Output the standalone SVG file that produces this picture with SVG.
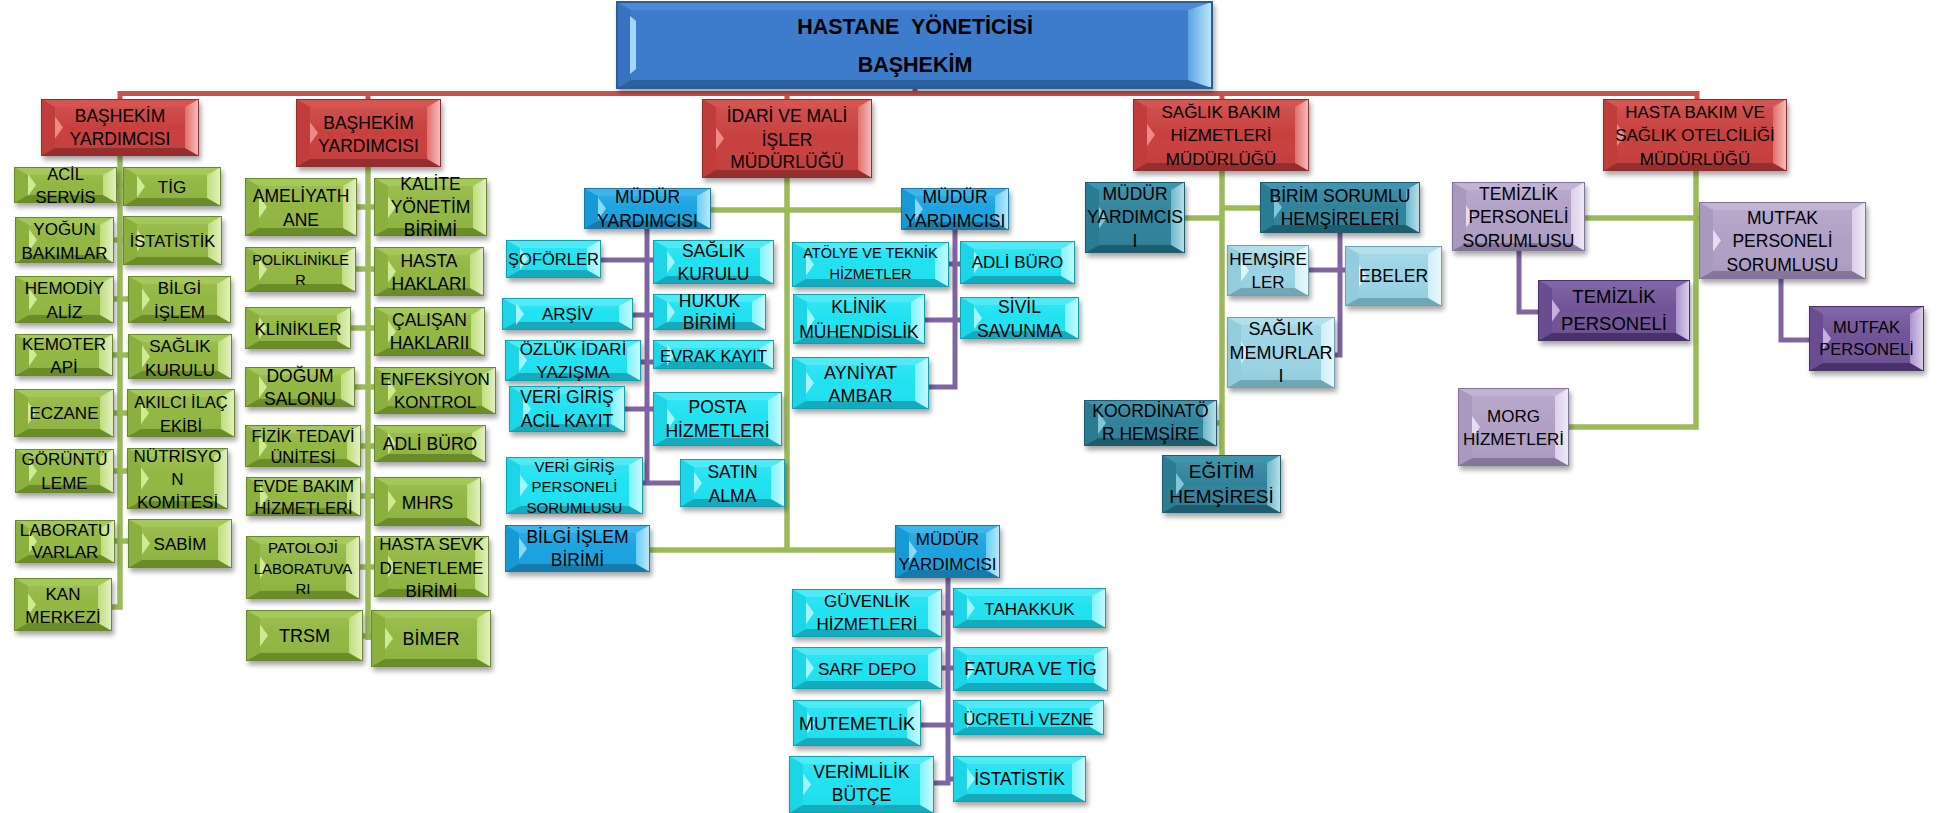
<svg xmlns="http://www.w3.org/2000/svg" width="1940" height="813" viewBox="0 0 1940 813">
<style>
.t{font-family:"Liberation Sans",Arial,"DejaVu Sans",sans-serif;font-size:17.5px;text-anchor:middle;fill:#000}
.ttl{font-weight:bold;font-size:21.5px}
.f145{font-size:14.5px}.f15{font-size:15px}.f165{font-size:16.5px}.f17{font-size:17px}.f18{font-size:18px}.f185{font-size:18.5px}.f19{font-size:19px}
.box{filter:url(#sh)}
.red{--c:#c8403e;--t:#d65451;--b:#962f2d;--l:#c03d3b;--r:#e36663;--h:#ec8a87;--s:#8c2d2b}
.grn{--c:#92b742;--t:#a5c958;--b:#6b8d2b;--l:#8cb03e;--r:#bcdc74;--h:#cfea92;--s:#67872f}
.cyn{--c:#20e2f2;--t:#50eaf6;--b:#14abbc;--l:#1cd6e8;--r:#7af2fb;--h:#a0f6fc;--s:#11a2b2}
.blu{--c:#1ba3e0;--t:#3eb5ea;--b:#137aad;--l:#199ad6;--r:#62cbf4;--h:#8ad8f8;--s:#1278ab}
.tea{--c:#2f839b;--t:#3e96ae;--b:#1e5d6f;--l:#2c7c93;--r:#62b4ca;--h:#80c6d8;--s:#1d5b6c}
.lbl{--c:#9ad4e4;--t:#b1dfec;--b:#6fa7b7;--l:#93ccdc;--r:#cbeef7;--h:#dcf5fb;--s:#6ca2b2}
.lav{--c:#b1a0c6;--t:#c2b4d4;--b:#85759b;--l:#aa99bf;--r:#dacdea;--h:#e6dcf1;--s:#83739a}
.pur{--c:#705397;--t:#8065a8;--b:#49336a;--l:#6a4e90;--r:#a88dcd;--h:#c5b0e2;--s:#47326a}
.cr{fill:none;stroke:#c9504e;stroke-width:5}
.cg{fill:none;stroke:#9bbb59;stroke-width:5.5}
.cp{fill:none;stroke:#8064a2;stroke-width:5}
</style>
<defs>
<filter id="sh" x="-10%" y="-15%" width="125%" height="145%">
<feDropShadow dx="2" dy="4" stdDeviation="2.5" flood-color="#000" flood-opacity="0.35"/>
</filter>
<linearGradient id="gl" x1="0" y1="0" x2="1" y2="0">
<stop offset="0" stop-color="#fff" stop-opacity="0.05"/>
<stop offset="1" stop-color="#fff" stop-opacity="0.6"/>
</linearGradient>
<linearGradient id="sv" x1="0" y1="0" x2="0" y2="1">
<stop offset="0" stop-color="#fff" stop-opacity="0.12"/>
<stop offset="0.5" stop-color="#fff" stop-opacity="0"/>
<stop offset="1" stop-color="#000" stop-opacity="0.06"/>
</linearGradient>
<linearGradient id="gtop" x1="0" y1="0" x2="1" y2="0">
<stop offset="0" stop-color="#5aa4e2"/>
<stop offset="1" stop-color="#bde8fc"/>
</linearGradient>
<symbol id="bx">
<rect width="100%" height="100%" style="fill:var(--c)"/>
<rect width="100%" height="100%" fill="url(#sv)"/>
<rect width="100%" height="8" style="fill:var(--t)"/>
<rect y="100%" width="100%" height="8" transform="translate(0,-8)" style="fill:var(--b)"/>
<rect width="14" height="100%" style="fill:var(--l)"/>
<rect x="100%" width="14" height="100%" transform="translate(-14,0)" style="fill:var(--r)"/>
<rect x="100%" width="14" height="100%" transform="translate(-14,0)" fill="url(#gl)"/>
<polygon points="0,0 14,0 14,8" style="fill:var(--t)"/>
<svg x="100%" width="1" height="1" overflow="visible"><polygon points="0,0 -14,0 -14,8" style="fill:var(--t)"/></svg>
<svg y="100%" width="1" height="1" overflow="visible"><polygon points="0,0 14,0 14,-8" style="fill:var(--b)"/></svg>
<svg x="100%" y="100%" width="1" height="1" overflow="visible"><polygon points="0,0 -14,0 -14,-8" style="fill:var(--b)"/></svg>
<svg y="50%" width="1" height="1" overflow="visible"><polygon points="14,-11 22,0 14,11" style="fill:var(--h)"/></svg>
<rect width="100%" height="100%" fill="none" stroke-width="2" style="stroke:var(--s)"/>
</symbol>
</defs>

<g id="connectors">
<path class="cr" d="M120,99 V93.5 H1697 V99 M915,88 V93.5 M368,93.5 V99 M787,93.5 V99 M1222,93.5 V99"/>
<path class="cg" d="M120,156 V607 H112 M114,185 H126 M112,240 H126 M112,299 H130 M111,355 H130 M112,413 H130 M112,471 H130 M113,541 H130"/>
<path class="cg" d="M368,167 V640 M355,207 H376 M354,269 H376 M349,328 H376 M353,387 H376 M359,446 H376 M359,496 H376 M358,567 H376 M361,636 H373"/>
<path class="cg" d="M787,178 V550 M648,550 H897 M709,210 H903"/>
<path class="cg" d="M1222,171 V455 M1183,218 H1222 M1222,208 H1262 M1215,423 H1222"/>
<path class="cg" d="M1696,171 V427 H1567 M1583,218 H1701"/>
<path class="cp" d="M647,229 V483 H682 M599,260 H655 M631,315 H655 M639,362 H655 M623,409 H655 M641,483 H647"/>
<path class="cp" d="M955,230 V387 H927 M923,320 H962 M947,264 H962"/>
<path class="cp" d="M948,578 V783 H932 M919,725 H955 M940,613 H955 M940,668 H955 M948,779 H955"/>
<path class="cp" d="M1340,233 V355 H1333 M1307,270 H1347"/>
<path class="cp" d="M1519,251 V312 H1540"/>
<path class="cp" d="M1781,279 V340 H1811"/>
</g>

<g id="n-hastane-yoneticisi">
<g class="box">
<rect x="617" y="2" width="595" height="86" fill="#3d7ccb"/>
<polygon points="617,2 1212,2 1188,10 631,10" fill="#4c8ad4"/>
<polygon points="617,88 1212,88 1188,80 631,80" fill="#2d609f"/>
<polygon points="617,2 631,10 631,80 617,88" fill="#3873bf"/>
<polygon points="1212,2 1188,10 1188,80 1212,88" fill="url(#gtop)"/>
<polygon points="630,16 636,21 636,69 630,74" fill="#a3d6f7"/>
<rect x="617" y="2" width="595" height="86" fill="none" stroke="#2b5c99" stroke-width="2"/>
</g>
<text class="t ttl"><tspan x="915" y="34">HASTANE&#160; YÖNETİCİSİ</tspan><tspan x="915" y="72">BAŞHEKİM</tspan></text>
</g>

<g id="n-bashekim-yrd-1"><use href="#bx" class="box red" x="41" y="99" width="158" height="57"/>
<text class="t"><tspan x="120" y="122">BAŞHEKİM</tspan><tspan x="120" y="145">YARDIMCISI</tspan></text></g>
<g id="n-bashekim-yrd-2"><use href="#bx" class="box red" x="296" y="99" width="145" height="68"/>
<text class="t"><tspan x="368.5" y="129">BAŞHEKİM</tspan><tspan x="368.5" y="152">YARDIMCISI</tspan></text></g>
<g id="n-idari-mali"><use href="#bx" class="box red" x="702" y="99" width="170" height="79"/>
<text class="t"><tspan x="787" y="122">İDARİ VE MALİ</tspan><tspan x="787" y="146">İŞLER</tspan><tspan x="787" y="168">MÜDÜRLÜĞÜ</tspan></text></g>
<g id="n-saglik-bakim"><use href="#bx" class="box red" x="1133" y="99" width="176" height="72"/>
<text class="t f17"><tspan x="1221" y="118">SAĞLIK BAKIM</tspan><tspan x="1221" y="141">HİZMETLERİ</tspan><tspan x="1221" y="165">MÜDÜRLÜĞÜ</tspan></text></g>
<g id="n-hasta-bakim"><use href="#bx" class="box red" x="1603" y="99" width="184" height="72"/>
<text class="t f17"><tspan x="1695" y="118">HASTA BAKIM VE</tspan><tspan x="1695" y="141">SAĞLIK OTELCİLİĞİ</tspan><tspan x="1695" y="165">MÜDÜRLÜĞÜ</tspan></text></g>

<g id="n-acil"><use href="#bx" class="box grn" x="14" y="167" width="103" height="36"/>
<text class="t f165"><tspan x="65.5" y="180">ACİL</tspan><tspan x="65.5" y="203">SERVİS</tspan></text></g>
<g id="n-tig"><use href="#bx" class="box grn" x="123" y="167" width="98" height="39"/>
<text class="t f17"><tspan x="172" y="193">TİG</tspan></text></g>
<g id="n-yogun"><use href="#bx" class="box grn" x="15" y="217" width="99" height="46"/>
<text class="t f17"><tspan x="64.5" y="235">YOĞUN</tspan><tspan x="64.5" y="259">BAKIMLAR</tspan></text></g>
<g id="n-istatistik-1"><use href="#bx" class="box grn" x="123" y="216" width="99" height="49"/>
<text class="t f165"><tspan x="172.5" y="247">İSTATİSTİK</tspan></text></g>
<g id="n-hemodiyaliz"><use href="#bx" class="box grn" x="15" y="276" width="99" height="47"/>
<text class="t f17"><tspan x="64.5" y="294">HEMODİY</tspan><tspan x="64.5" y="318">ALİZ</tspan></text></g>
<g id="n-bilgi-islem-1"><use href="#bx" class="box grn" x="128" y="276" width="103" height="47"/>
<text class="t f17"><tspan x="179.5" y="294">BİLGİ</tspan><tspan x="179.5" y="318">İŞLEM</tspan></text></g>
<g id="n-kemoterapi"><use href="#bx" class="box grn" x="15" y="334" width="98" height="42"/>
<text class="t f17"><tspan x="64" y="350">KEMOTER</tspan><tspan x="64" y="373">APİ</tspan></text></g>
<g id="n-saglik-kurulu-1"><use href="#bx" class="box grn" x="128" y="334" width="104" height="45"/>
<text class="t f17"><tspan x="180" y="352">SAĞLIK</tspan><tspan x="180" y="376">KURULU</tspan></text></g>
<g id="n-eczane"><use href="#bx" class="box grn" x="14" y="389" width="100" height="48"/>
<text class="t f17"><tspan x="64" y="419">ECZANE</tspan></text></g>
<g id="n-akilci"><use href="#bx" class="box grn" x="127" y="389" width="108" height="48"/>
<text class="t f165"><tspan x="181" y="408">AKILCI İLAÇ</tspan><tspan x="181" y="432">EKİBİ</tspan></text></g>
<g id="n-goruntuleme"><use href="#bx" class="box grn" x="15" y="449" width="99" height="44"/>
<text class="t f17"><tspan x="64.5" y="465">GÖRÜNTÜ</tspan><tspan x="64.5" y="489">LEME</tspan></text></g>
<g id="n-nutrisyon"><use href="#bx" class="box grn" x="127" y="448" width="101" height="61"/>
<text class="t f17"><tspan x="177.5" y="462">NÜTRİSYO</tspan><tspan x="177.5" y="485">N</tspan><tspan x="177.5" y="508">KOMİTESİ</tspan></text></g>
<g id="n-laboratuvarlar"><use href="#bx" class="box grn" x="15" y="520" width="100" height="43"/>
<text class="t f17"><tspan x="65" y="536">LABORATU</tspan><tspan x="65" y="558">VARLAR</tspan></text></g>
<g id="n-sabim"><use href="#bx" class="box grn" x="128" y="519" width="104" height="49"/>
<text class="t f17"><tspan x="180" y="550">SABİM</tspan></text></g>
<g id="n-kan-merkezi"><use href="#bx" class="box grn" x="14" y="578" width="98" height="53"/>
<text class="t f17"><tspan x="63" y="600">KAN</tspan><tspan x="63" y="623">MERKEZİ</tspan></text></g>

<g id="n-ameliyathane"><use href="#bx" class="box grn" x="245" y="178" width="112" height="58"/>
<text class="t"><tspan x="301" y="202">AMELİYATH</tspan><tspan x="301" y="226">ANE</tspan></text></g>
<g id="n-kalite"><use href="#bx" class="box grn" x="374" y="178" width="113" height="58"/>
<text class="t"><tspan x="430.5" y="190">KALİTE</tspan><tspan x="430.5" y="213">YÖNETİM</tspan><tspan x="430.5" y="236">BİRİMİ</tspan></text></g>
<g id="n-poliklinikler"><use href="#bx" class="box grn" x="245" y="247" width="111" height="45"/>
<text class="t f145"><tspan x="300.5" y="265">POLİKLİNİKLE</tspan><tspan x="300.5" y="285">R</tspan></text></g>
<g id="n-hasta-haklari"><use href="#bx" class="box grn" x="374" y="247" width="110" height="49"/>
<text class="t"><tspan x="429" y="267">HASTA</tspan><tspan x="429" y="290">HAKLARI</tspan></text></g>
<g id="n-klinikler"><use href="#bx" class="box grn" x="245" y="307" width="106" height="42"/>
<text class="t f17"><tspan x="298" y="335">KLİNİKLER</tspan></text></g>
<g id="n-calisan-haklari"><use href="#bx" class="box grn" x="374" y="307" width="111" height="49"/>
<text class="t"><tspan x="429.5" y="326">ÇALIŞAN</tspan><tspan x="429.5" y="349">HAKLARII</tspan></text></g>
<g id="n-dogum"><use href="#bx" class="box grn" x="245" y="367" width="110" height="40"/>
<text class="t"><tspan x="300" y="382">DOĞUM</tspan><tspan x="300" y="405">SALONU</tspan></text></g>
<g id="n-enfeksiyon"><use href="#bx" class="box grn" x="374" y="367" width="122" height="47"/>
<text class="t f17"><tspan x="435" y="385">ENFEKSİYON</tspan><tspan x="435" y="408">KONTROL</tspan></text></g>
<g id="n-fizik-tedavi"><use href="#bx" class="box grn" x="245" y="425" width="116" height="42"/>
<text class="t f165"><tspan x="303" y="442">FİZİK TEDAVİ</tspan><tspan x="303" y="463">ÜNİTESİ</tspan></text></g>
<g id="n-adli-buro-1"><use href="#bx" class="box grn" x="374" y="425" width="112" height="37"/>
<text class="t"><tspan x="430" y="450">ADLİ BÜRO</tspan></text></g>
<g id="n-evde-bakim"><use href="#bx" class="box grn" x="246" y="477" width="115" height="39"/>
<text class="t f165"><tspan x="303.5" y="492">EVDE BAKIM</tspan><tspan x="303.5" y="514">HİZMETLERİ</tspan></text></g>
<g id="n-mhrs"><use href="#bx" class="box grn" x="374" y="477" width="107" height="49"/>
<text class="t"><tspan x="427.5" y="509">MHRS</tspan></text></g>
<g id="n-patoloji"><use href="#bx" class="box grn" x="246" y="536" width="114" height="63"/>
<text class="t f15"><tspan x="303" y="553">PATOLOJİ</tspan><tspan x="303" y="574">LABORATUVA</tspan><tspan x="303" y="594">RI</tspan></text></g>
<g id="n-hasta-sevk"><use href="#bx" class="box grn" x="374" y="536" width="115" height="61"/>
<text class="t f17"><tspan x="431.5" y="550">HASTA SEVK</tspan><tspan x="431.5" y="574">DENETLEME</tspan><tspan x="431.5" y="597">BİRİMİ</tspan></text></g>
<g id="n-trsm"><use href="#bx" class="box grn" x="246" y="610" width="117" height="51"/>
<text class="t f18"><tspan x="304.5" y="642">TRSM</tspan></text></g>
<g id="n-bimer"><use href="#bx" class="box grn" x="371" y="610" width="120" height="57"/>
<text class="t f18"><tspan x="431" y="645">BİMER</tspan></text></g>

<g id="n-mudur-yrd-1"><use href="#bx" class="box blu" x="584" y="188" width="127" height="41"/>
<text class="t"><tspan x="647.5" y="203">MÜDÜR</tspan><tspan x="647.5" y="227">YARDIMCISI</tspan></text></g>
<g id="n-mudur-yrd-2"><use href="#bx" class="box blu" x="901" y="188" width="108" height="42"/>
<text class="t"><tspan x="955" y="203">MÜDÜR</tspan><tspan x="955" y="227">YARDIMCISI</tspan></text></g>
<g id="n-mudur-yrd-3"><use href="#bx" class="box blu" x="895" y="525" width="105" height="53"/>
<text class="t f17"><tspan x="947.5" y="545">MÜDÜR</tspan><tspan x="947.5" y="570">YARDIMCISI</tspan></text></g>
<g id="n-bilgi-islem-birimi"><use href="#bx" class="box blu" x="505" y="525" width="145" height="47"/>
<text class="t"><tspan x="577.5" y="543">BİLGİ İŞLEM</tspan><tspan x="577.5" y="566">BİRİMİ</tspan></text></g>

<g id="n-soforler"><use href="#bx" class="box cyn" x="506" y="240" width="95" height="38"/>
<text class="t f165"><tspan x="553.5" y="265">ŞOFÖRLER</tspan></text></g>
<g id="n-saglik-kurulu-2"><use href="#bx" class="box cyn" x="653" y="240" width="121" height="44"/>
<text class="t"><tspan x="713.5" y="257">SAĞLIK</tspan><tspan x="713.5" y="280">KURULU</tspan></text></g>
<g id="n-arsiv"><use href="#bx" class="box cyn" x="502" y="298" width="131" height="32"/>
<text class="t f17"><tspan x="567.5" y="320">ARŞİV</tspan></text></g>
<g id="n-hukuk"><use href="#bx" class="box cyn" x="653" y="294" width="113" height="36"/>
<text class="t"><tspan x="709.5" y="307">HUKUK</tspan><tspan x="709.5" y="329">BİRİMİ</tspan></text></g>
<g id="n-ozluk"><use href="#bx" class="box cyn" x="505" y="340" width="136" height="41"/>
<text class="t f17"><tspan x="573" y="355">ÖZLÜK İDARİ</tspan><tspan x="573" y="378">YAZIŞMA</tspan></text></g>
<g id="n-evrak"><use href="#bx" class="box cyn" x="653" y="340" width="121" height="29"/>
<text class="t f165"><tspan x="713.5" y="362">EVRAK KAYIT</tspan></text></g>
<g id="n-veri-acil"><use href="#bx" class="box cyn" x="509" y="386" width="116" height="46"/>
<text class="t"><tspan x="567" y="403">VERİ GİRİŞ</tspan><tspan x="567" y="427">ACİL KAYIT</tspan></text></g>
<g id="n-posta"><use href="#bx" class="box cyn" x="653" y="392" width="129" height="54"/>
<text class="t"><tspan x="717.5" y="413">POSTA</tspan><tspan x="717.5" y="437">HİZMETLERİ</tspan></text></g>
<g id="n-veri-personel"><use href="#bx" class="box cyn" x="506" y="457" width="137" height="57"/>
<text class="t f15"><tspan x="574.5" y="472">VERİ GİRİŞ</tspan><tspan x="574.5" y="492">PERSONELİ</tspan><tspan x="574.5" y="513">SORUMLUSU</tspan></text></g>
<g id="n-satin-alma"><use href="#bx" class="box cyn" x="680" y="459" width="105" height="48"/>
<text class="t"><tspan x="732.5" y="478">SATIN</tspan><tspan x="732.5" y="502">ALMA</tspan></text></g>
<g id="n-atolye"><use href="#bx" class="box cyn" x="792" y="242" width="157" height="45"/>
<text class="t f145"><tspan x="870.5" y="258">ATÖLYE VE TEKNİK</tspan><tspan x="870.5" y="279">HİZMETLER</tspan></text></g>
<g id="n-adli-buro-2"><use href="#bx" class="box cyn" x="960" y="241" width="115" height="43"/>
<text class="t f17"><tspan x="1017.5" y="268">ADLİ BÜRO</tspan></text></g>
<g id="n-klinik-muh"><use href="#bx" class="box cyn" x="793" y="294" width="132" height="50"/>
<text class="t"><tspan x="859" y="313">KLİNİK</tspan><tspan x="859" y="338">MÜHENDİSLİK</tspan></text></g>
<g id="n-sivil"><use href="#bx" class="box cyn" x="960" y="297" width="119" height="42"/>
<text class="t"><tspan x="1019.5" y="313">SİVİL</tspan><tspan x="1019.5" y="337">SAVUNMA</tspan></text></g>
<g id="n-ayniyat"><use href="#bx" class="box cyn" x="792" y="357" width="137" height="52"/>
<text class="t f18"><tspan x="860.5" y="379">AYNİYAT</tspan><tspan x="860.5" y="402">AMBAR</tspan></text></g>
<g id="n-guvenlik"><use href="#bx" class="box cyn" x="792" y="589" width="150" height="48"/>
<text class="t f17"><tspan x="867" y="607">GÜVENLİK</tspan><tspan x="867" y="630">HİZMETLERİ</tspan></text></g>
<g id="n-tahakkuk"><use href="#bx" class="box cyn" x="953" y="588" width="153" height="40"/>
<text class="t f17"><tspan x="1029.5" y="615">TAHAKKUK</tspan></text></g>
<g id="n-sarf"><use href="#bx" class="box cyn" x="792" y="647" width="150" height="42"/>
<text class="t f17"><tspan x="867" y="675">SARF DEPO</tspan></text></g>
<g id="n-fatura"><use href="#bx" class="box cyn" x="953" y="647" width="155" height="44"/>
<text class="t f18"><tspan x="1030.5" y="675">FATURA VE TİG</tspan></text></g>
<g id="n-mutemetlik"><use href="#bx" class="box cyn" x="793" y="700" width="128" height="46"/>
<text class="t f18"><tspan x="857" y="730">MUTEMETLİK</tspan></text></g>
<g id="n-ucretli"><use href="#bx" class="box cyn" x="953" y="700" width="151" height="35"/>
<text class="t f165"><tspan x="1028.5" y="725">ÜCRETLİ VEZNE</tspan></text></g>
<g id="n-verimlilik"><use href="#bx" class="box cyn" x="789" y="756" width="145" height="57"/>
<text class="t"><tspan x="861.5" y="778">VERİMLİLİK</tspan><tspan x="861.5" y="801">BÜTÇE</tspan></text></g>
<g id="n-istatistik-2"><use href="#bx" class="box cyn" x="953" y="756" width="133" height="46"/>
<text class="t"><tspan x="1019.5" y="785">İSTATİSTİK</tspan></text></g>

<g id="n-mudur-yrd-4"><use href="#bx" class="box tea" x="1085" y="182" width="100" height="71"/>
<text class="t"><tspan x="1135" y="200">MÜDÜR</tspan><tspan x="1135" y="223">YARDIMCIS</tspan><tspan x="1135" y="247">I</tspan></text></g>
<g id="n-birim-sorumlu"><use href="#bx" class="box tea" x="1260" y="182" width="160" height="51"/>
<text class="t"><tspan x="1340" y="202">BİRİM SORUMLU</tspan><tspan x="1340" y="225">HEMŞİRELERİ</tspan></text></g>
<g id="n-koordinator"><use href="#bx" class="box tea" x="1084" y="400" width="133" height="46"/>
<text class="t"><tspan x="1150.5" y="417">KOORDİNATÖ</tspan><tspan x="1150.5" y="440">R HEMŞİRE</tspan></text></g>
<g id="n-egitim"><use href="#bx" class="box tea" x="1162" y="455" width="119" height="58"/>
<text class="t f19"><tspan x="1221.5" y="478">EĞİTİM</tspan><tspan x="1221.5" y="503">HEMŞİRESİ</tspan></text></g>
<g id="n-hemsireler"><use href="#bx" class="box lbl" x="1227" y="245" width="82" height="51"/>
<text class="t f17"><tspan x="1268" y="265">HEMŞİRE</tspan><tspan x="1268" y="288">LER</tspan></text></g>
<g id="n-ebeler"><use href="#bx" class="box lbl" x="1345" y="246" width="97" height="60"/>
<text class="t"><tspan x="1393.5" y="282">EBELER</tspan></text></g>
<g id="n-saglik-memurlari"><use href="#bx" class="box lbl" x="1227" y="317" width="108" height="71"/>
<text class="t f18"><tspan x="1281" y="335">SAĞLIK</tspan><tspan x="1281" y="359">MEMURLAR</tspan><tspan x="1281" y="382">I</tspan></text></g>

<g id="n-temizlik-sorumlu"><use href="#bx" class="box lav" x="1452" y="182" width="133" height="69"/>
<text class="t"><tspan x="1518.5" y="200">TEMİZLİK</tspan><tspan x="1518.5" y="223">PERSONELİ</tspan><tspan x="1518.5" y="247">SORUMLUSU</tspan></text></g>
<g id="n-mutfak-sorumlu"><use href="#bx" class="box lav" x="1699" y="202" width="167" height="77"/>
<text class="t"><tspan x="1782.5" y="224">MUTFAK</tspan><tspan x="1782.5" y="247">PERSONELİ</tspan><tspan x="1782.5" y="271">SORUMLUSU</tspan></text></g>
<g id="n-morg"><use href="#bx" class="box lav" x="1458" y="388" width="111" height="78"/>
<text class="t f17"><tspan x="1513.5" y="422">MORG</tspan><tspan x="1513.5" y="445">HİZMETLERİ</tspan></text></g>
<g id="n-temizlik-personeli"><use href="#bx" class="box pur" x="1538" y="280" width="152" height="61"/>
<text class="t f185"><tspan x="1614" y="303">TEMİZLİK</tspan><tspan x="1614" y="330">PERSONELİ</tspan></text></g>
<g id="n-mutfak-personeli"><use href="#bx" class="box pur" x="1809" y="306" width="115" height="65"/>
<text class="t f165"><tspan x="1866.5" y="333">MUTFAK</tspan><tspan x="1866.5" y="355">PERSONELİ</tspan></text></g>
</svg>
